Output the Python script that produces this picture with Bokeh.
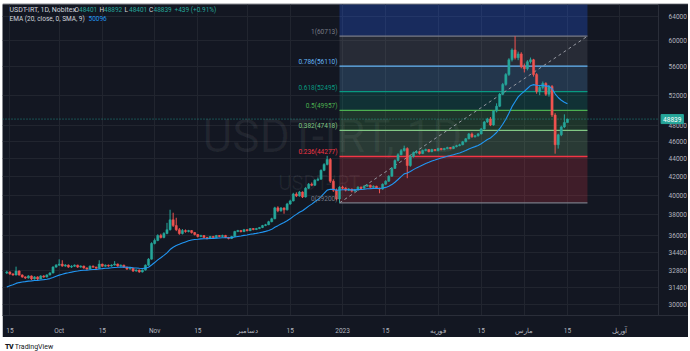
import pandas as pd
from bokeh.plotting import figure
from bokeh.models import Range1d, FixedTicker, PrintfTickFormatter, Label, ColumnDataSource, Div
from bokeh.layouts import column
from bokeh.embed import file_html
from bokeh.resources import INLINE

# ---------------- data ----------------
start_date = "2022-09-14"
first_open = 32610
closes = [
    32700, 32530, 32440, 32780, 32440, 32280, 32190, 32360, 32110, 32280,
    32110, 32360, 32270, 32450, 32610, 33120, 33290, 33380, 33210, 33300,
    33120, 33200, 33290, 33120, 33210, 33040, 32950, 33200, 33120, 33030,
    33380, 33200, 33290, 33210, 33300, 33390, 33210, 33290, 33120, 32950,
    33030, 32780, 32870, 32700, 32860, 33290, 33820, 35240, 35520, 35980,
    35800, 36170, 36540, 37500, 36930, 36540, 36170, 36450, 36360, 36450,
    36260, 36080, 35890, 35980, 35800, 35700, 35890, 35790, 35980, 35890,
    35990, 35800, 35700, 35890, 36360, 36450, 36350, 36540, 36440, 36640,
    36550, 36640, 36740, 36930, 37020, 37310, 37600, 38690, 38390, 38680,
    38490, 39090, 39400, 40120, 39910, 40330, 39810, 40740, 41170, 41060,
    41600, 41710, 42690, 43360, 43930, 41490, 40530, 39600, 40850, 40740,
    40530, 40640, 40430, 40540, 40850, 40740, 40960, 41060, 40850, 40950,
    40740, 40640, 41170, 41490, 42040, 42910, 43810, 44490, 44960, 45200,
    43240, 44270, 44720, 44840, 44610, 44960, 45080, 44840, 45080, 44960,
    45200, 45080, 45200, 45320, 45200, 45430, 45550, 45660, 46020, 46380,
    46980, 46620, 46740, 46980, 47600, 48470, 48850, 48090, 49870, 50520,
    52120, 53490, 54890, 57060, 58560, 57360, 57950, 56040, 55750, 56770,
    57060, 54890, 52520, 53070, 53630, 52120, 53210, 49350, 45660, 46860,
    47850, 48401, 48839,
]
highs = [
    32800, 32760, 32600, 33160, 32850, 32500, 32330, 32420, 32400, 32340,
    32330, 32420, 32430, 32500, 32680, 33200, 33380, 33800, 33720, 33380,
    33350, 33280, 33350, 33330, 33270, 33250, 33100, 33260, 33260, 33160,
    33720, 33420, 33350, 33340, 33360, 33640, 33430, 33350, 33330, 33160,
    33090, 33070, 32930, 32910, 32920, 33350, 33900, 35350, 35700, 36100,
    36150, 36300, 37200, 38500, 38200, 37700, 36700, 36600, 36560, 36520,
    36500, 36320, 36120, 36050, 36030, 35860, 35950, 35950, 36040, 36030,
    36060, 36040, 35850, 35950, 36430, 36520, 36510, 36610, 36600, 36700,
    36700, 36710, 36800, 37000, 37100, 37400, 37700, 38800, 38850, 38780,
    38750, 39200, 39520, 40250, 40300, 40450, 40400, 40850, 41300, 41350,
    41700, 41900, 42800, 43500, 44350, 44100, 41700, 40700, 40950, 41000,
    40850, 40750, 40700, 40650, 40950, 40920, 41050, 41150, 41120, 41050,
    41000, 40800, 41250, 41600, 42150, 43050, 43950, 44650, 45150, 45550,
    45350, 44400, 44850, 45000, 44950, 45080, 45200, 45150, 45180, 45150,
    45300, 45280, 45290, 45420, 45390, 45500, 45650, 45780, 46120, 46480,
    47100, 47150, 46850, 47100, 47720, 48600, 49000, 49100, 50000, 50900,
    52300, 53700, 55100, 57300, 58800, 60713, 58300, 58200, 56500, 57000,
    57400, 57200, 55100, 53300, 53900, 53800, 53400, 53400, 49600, 47000,
    48000, 49450, 48892,
]
lows = [
    32520, 32450, 32380, 32400, 32380, 32200, 32100, 32130, 32020, 32050,
    32000, 32080, 32200, 32220, 32400, 32580, 33060, 33240, 33150, 33150,
    33060, 33050, 33140, 33050, 33070, 32980, 32880, 32920, 33050, 32960,
    33000, 33150, 33150, 33150, 33160, 33250, 33150, 33160, 33060, 32880,
    32900, 32700, 32720, 32630, 32650, 32820, 33240, 33780, 35150, 35450,
    35700, 35720, 36100, 36450, 36800, 36400, 36050, 36080, 36250, 36280,
    36170, 35990, 35800, 35820, 35720, 35620, 35640, 35720, 35730, 35820,
    35830, 35740, 35620, 35650, 35850, 36300, 36280, 36300, 36380, 36400,
    36480, 36500, 36590, 36690, 36880, 36970, 37250, 37550, 38250, 38300,
    38100, 38420, 39000, 39350, 39800, 39850, 39700, 39750, 40650, 40950,
    40980, 41500, 41650, 42600, 43250, 41300, 40350, 39450, 39200, 40600,
    40400, 40450, 40300, 40350, 40480, 40650, 40680, 40900, 40780, 40780,
    40650, 40200, 40580, 41100, 41420, 41980, 42850, 43700, 44400, 44850,
    41820, 43100, 44150, 44620, 44500, 44550, 44880, 44750, 44770, 44880,
    44900, 44990, 45000, 45120, 45120, 45140, 45350, 45480, 45600, 45950,
    46300, 46500, 46520, 46650, 46900, 47500, 48350, 47950, 48000, 49700,
    50400, 52000, 53300, 54700, 56800, 57100, 57000, 55800, 55200, 55500,
    56500, 54600, 52200, 52000, 52800, 51900, 51800, 49100, 44600, 45200,
    46700, 47700, 48401,
]
ema_length = 20
ema_seed = 31300          # EMA value read at the left edge of the chart

price_ticks = [30000, 31400, 32800, 34400, 36000, 38000, 40000, 42000,
               44000, 46000, 48000, 52000, 56000, 60000, 64000]
time_tick_dates = ["2022-09-15", "2022-10-01", "2022-10-15", "2022-11-01",
                   "2022-11-15", "2022-12-01", "2022-12-15", "2023-01-01",
                   "2023-01-15", "2023-02-01", "2023-02-15", "2023-03-01",
                   "2023-03-15", "2023-04-01"]
time_tick_labels = ["15", "Oct", "15", "Nov", "15", "دسامبر", "15", "2023",
                    "15", "فوریه", "15", "مارس", "15", "آوریل"]

fib_start = "2022-12-31"
fib_end = "2023-03-21 12:00"
fib_ratios = ["0", "0.236", "0.382", "0.5", "0.618", "0.786", "1", "1.618"]
fib_levels = [39200, 44277, 47418, 49957, 52495, 56110, 60713, 74008]
fib_colors = ["#787b86", "#f23645", "#81c784", "#4caf50", "#089981",
              "#64b5f6", "#787b86", "#2962ff"]

last_price = 48839
header_title = "USDT-IRT, 1D, Nobitex"
header_ohlc = [("O", "48401"), ("H", "48892"), ("L", "48401"), ("C", "48839")]
header_change = "+439 (+0.91%)"
ema_title = "EMA (20, close, 0, SMA, 9)"
ema_value_text = "50096"

# ---------------- derived ----------------
BG = "#131722"
UP = "#26a69a"
DOWN = "#ef5350"
TXT = "#b2b5be"
GRID = "#21252f"
FONT = "Roboto"

# visible time window (days from start) and where the price scale begins
view_start, view_end, price_scale_at = -1.4, 221.3, 211.6

d0 = pd.Timestamp(start_date)
dates = pd.date_range(start_date, periods=len(closes), freq="D")
xs = [(d - d0).days for d in dates]
opens = [first_open] + closes[:-1]
k = 2.0 / (ema_length + 1)
ema, prev = [], ema_seed
for c in closes:
    prev = c * k + prev * (1 - k)
    ema.append(prev)

src = ColumnDataSource(dict(
    x=xs, o=opens, c=closes, h=highs, l=lows,
    top=[max(a, b) for a, b in zip(opens, closes)],
    bot=[min(a, b) for a, b in zip(opens, closes)],
    col=[UP if c >= o else DOWN for o, c in zip(opens, closes)],
))

def dx(s):
    return (pd.Timestamp(s) - d0) / pd.Timedelta(days=1)

fx0, fx1 = dx(fib_start), dx(fib_end)
tick_x = [int(dx(s)) for s in time_tick_dates]

p = figure(width=686, height=334, x_range=Range1d(view_start, view_end),
           y_range=Range1d(29170, 65970), y_axis_type="log",
           y_axis_location="right", output_backend="svg", toolbar_location=None,
           background_fill_color=BG, border_fill_color=BG,
           min_border_left=0, min_border_right=0, min_border_top=1,
           min_border_bottom=18)
p.outline_line_color = None
p.margin = (3, 2, 0, 2)

# axes
p.xaxis.ticker = FixedTicker(ticks=tick_x)
p.xaxis.major_label_overrides = {t: lab for t, lab in zip(tick_x, time_tick_labels)}
p.yaxis.ticker = FixedTicker(ticks=price_ticks)
p.yaxis.formatter = PrintfTickFormatter(format="%d")
p.yaxis.fixed_location = price_scale_at
for ax in (p.xaxis[0], p.yaxis[0]):
    ax.axis_line_color = "#2a2e39"
    ax.major_tick_line_color = None
    ax.minor_tick_line_color = None
    ax.major_label_text_color = TXT
    ax.major_label_text_font = FONT
    ax.major_label_text_font_size = "6.5px"
p.xaxis.major_label_standoff = 5
p.yaxis.major_label_standoff = 4
p.xgrid.grid_line_color = GRID
p.ygrid.grid_line_color = GRID

# watermark
p.add_layout(Label(x=105.7, y=46700, text="USDT-IRT, 1D", text_align="center",
                   text_baseline="middle", text_font=FONT, text_font_size="46px",
                   text_color="#ffffff", text_alpha=0.06, level="underlay"))
p.add_layout(Label(x=101.5, y=41300, text="USDT-IRT", text_align="center",
                   text_baseline="middle", text_font=FONT, text_font_size="20px",
                   text_color="#ffffff", text_alpha=0.06, level="underlay"))

# fib retracement bands, lines, labels
for i in range(len(fib_levels) - 1):
    alpha = 0.27 if i == len(fib_levels) - 2 else 0.2
    p.quad(left=fx0, right=fx1, bottom=fib_levels[i], top=fib_levels[i + 1],
           fill_color=fib_colors[i + 1], fill_alpha=alpha, line_color=None)
for i in range(len(fib_levels) - 1):
    p.segment(x0=fx0, x1=fx1, y0=fib_levels[i], y1=fib_levels[i],
              line_color=fib_colors[i], line_width=1.4 if i == 1 else 1.2)
    p.add_layout(Label(x=fx0, y=fib_levels[i], x_offset=-2,
                       text=f"{fib_ratios[i]}({fib_levels[i]})",
                       text_align="right", text_baseline="bottom",
                       text_font=FONT, text_font_size="6.5px",
                       text_color=fib_colors[i]))
p.segment(x0=fx0, y0=fib_levels[0], x1=fx1, y1=fib_levels[6],
          line_color="#9598a1", line_dash="3 3", line_width=1)

# last price line
p.segment(x0=view_start, x1=price_scale_at, y0=last_price, y1=last_price,
          line_color=UP, line_dash="1 2", line_width=1, line_alpha=0.8)

# candles
p.segment(x0="x", x1="x", y0="h", y1="l", line_color="col", line_width=1, source=src)
p.vbar(x="x", width=0.7, top="top", bottom="bot", fill_color="col",
       line_color="col", line_width=0.5, source=src)

# EMA
p.line(xs, ema, line_color="#2196f3", line_width=1.1)

# price-scale background (covers grid lines right of the scale line)
p.quad(left=price_scale_at, right=view_end, bottom=20000, top=80000,
       fill_color=BG, line_color=None)

# last price tag on the price scale
tag_kw = dict(x=price_scale_at, y=last_price, x_offset=2.5, text=str(last_price),
              text_baseline="middle", text_font=FONT, text_font_size="6.5px",
              text_color="#ffffff", background_fill_color=UP,
              border_line_color=UP, border_line_width=1)
if "padding" in Label.properties():
    tag_kw["padding"] = 2
else:
    tag_kw["border_line_width"] = 4
p.add_layout(Label(**tag_kw))

# header legend (screen units, relative to the frame)
HS = "6.5px"
p.add_layout(Label(x=7, y=306, x_units="screen", y_units="screen",
                   text=header_title, text_baseline="middle",
                   text_font=FONT, text_font_size="7px", text_color="#d1d4dc"))
hx = [72, 97, 122, 146.5]
for (lab, val), x0 in zip(header_ohlc, hx):
    p.add_layout(Label(x=x0, y=306, x_units="screen", y_units="screen", text=lab,
                       text_baseline="middle", text_font=FONT,
                       text_font_size=HS, text_color="#d1d4dc"))
    p.add_layout(Label(x=x0 + 4.5, y=306, x_units="screen", y_units="screen",
                       text=val, text_baseline="middle", text_font=FONT,
                       text_font_size=HS, text_color=UP))
p.add_layout(Label(x=172, y=306, x_units="screen", y_units="screen",
                   text=header_change, text_baseline="middle", text_font=FONT,
                   text_font_size=HS, text_color=UP))
p.add_layout(Label(x=7, y=297, x_units="screen", y_units="screen",
                   text=ema_title, text_baseline="middle",
                   text_font=FONT, text_font_size=HS, text_color="#d1d4dc"))
p.add_layout(Label(x=86, y=297, x_units="screen", y_units="screen",
                   text=ema_value_text, text_baseline="middle", text_font=FONT,
                   text_font_size=HS, text_color="#2196f3"))

footer = Div(text='<div style="font-family:Roboto,sans-serif;font-size:7px;color:#131722;'
                  'padding-left:5px;line-height:14px;"><b style="font-weight:900;'
                  'letter-spacing:-0.5px">TV</b> TradingView</div>',
             width=690, height=14, margin=(0, 0, 0, 0))

layout = column(p, footer, spacing=0)
open("out.html", "w").write(file_html(layout, INLINE))
